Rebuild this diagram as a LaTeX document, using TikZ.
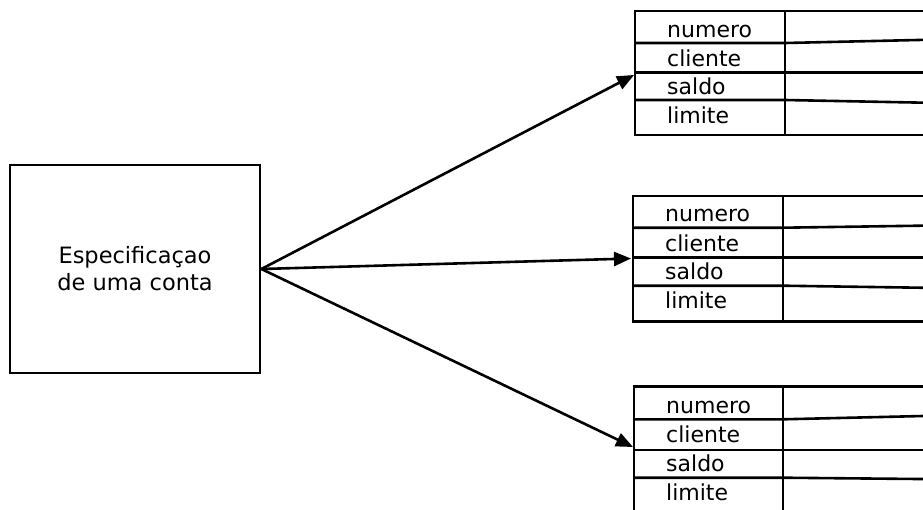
\documentclass[tikz,border=0pt]{standalone}
\usepackage{fontspec}
\setmainfont{DejaVu Sans}
\usetikzlibrary{arrows.meta}
\tikzset{
  specbox/.style={draw, line width=2.8pt, minimum width=250pt, minimum height=208pt, align=center, inner sep=0pt,
    font=\fontsize{22.5}{27}\selectfont},
  lbl/.style={anchor=base west, inner sep=0pt, font=\fontsize{22}{26}\selectfont},
  tline/.style={line width=2.6pt},
  arr/.style={line width=2.6pt, -{Triangle[length=17pt,width=14pt]}},
}
\begin{document}
\begin{tikzpicture}[x=1pt,y=-1pt]
\useasboundingbox (0,0) rectangle (923,509);
\clip (0,0) rectangle (923,509);

% specification box
\node[specbox] (spec) at (135,269) {Especificaçao\\de uma conta};

% ---- table 1 ----
\draw[tline] (940,11) -- (635,11) -- (635,135) -- (940,135);
\draw[tline] (785,11) -- (785,135);
\draw[tline] (635,43) -- (785,43) -- (940,39.5);
\draw[tline] (635,72.3) -- (940,72.3);
\draw[tline] (635,100) -- (785,100) -- (940,103);
\node[lbl] (n1) at (667,37) {numero};
\node[lbl] (c1) at (667,66) {cliente};
\node[lbl] (s1) at (667,94.3) {saldo};
\node[lbl] (l1) at (667,123.3) {limite};
\coordinate (t1) at (634,75);

% ---- table 2 ----
\draw[tline] (940,196) -- (633,196) -- (633,321.7) -- (940,321.7);
\draw[tline] (783,196) -- (783,321.7);
\draw[tline] (633,227.7) -- (783,227.7) -- (940,225.4);
\draw[tline] (633,257.7) -- (940,257.7);
\draw[tline] (633,285.7) -- (783,285.7) -- (940,288);
\node[lbl] (n2) at (665,221.7) {numero};
\node[lbl] (c2) at (665,251) {cliente};
\node[lbl] (s2) at (665,279.3) {saldo};
\node[lbl] (l2) at (665,308.3) {limite};
\coordinate (t2) at (631,258.5);

% ---- table 3 ----
\draw[tline] (940,386.7) -- (634,386.7) -- (634,520);
\draw[tline] (783,386.7) -- (783,520);
\draw[tline] (634,419.3) -- (783,419.3) -- (940,415.6);
\draw[tline] (634,450) -- (940,450);
\draw[tline] (634,477.7) -- (783,477.7) -- (940,479.2);
\node[lbl] (n3) at (666,413.3) {numero};
\node[lbl] (c3) at (666,442.7) {cliente};
\node[lbl] (s3) at (666,471.7) {saldo};
\node[lbl] (l3) at (666,500) {limite};
\coordinate (t3) at (633,447);

% connectors
\draw[arr] (spec.east) -- (t1);
\draw[arr] (spec.east) -- (t2);
\draw[arr] (spec.east) -- (t3);
\end{tikzpicture}
\end{document}
